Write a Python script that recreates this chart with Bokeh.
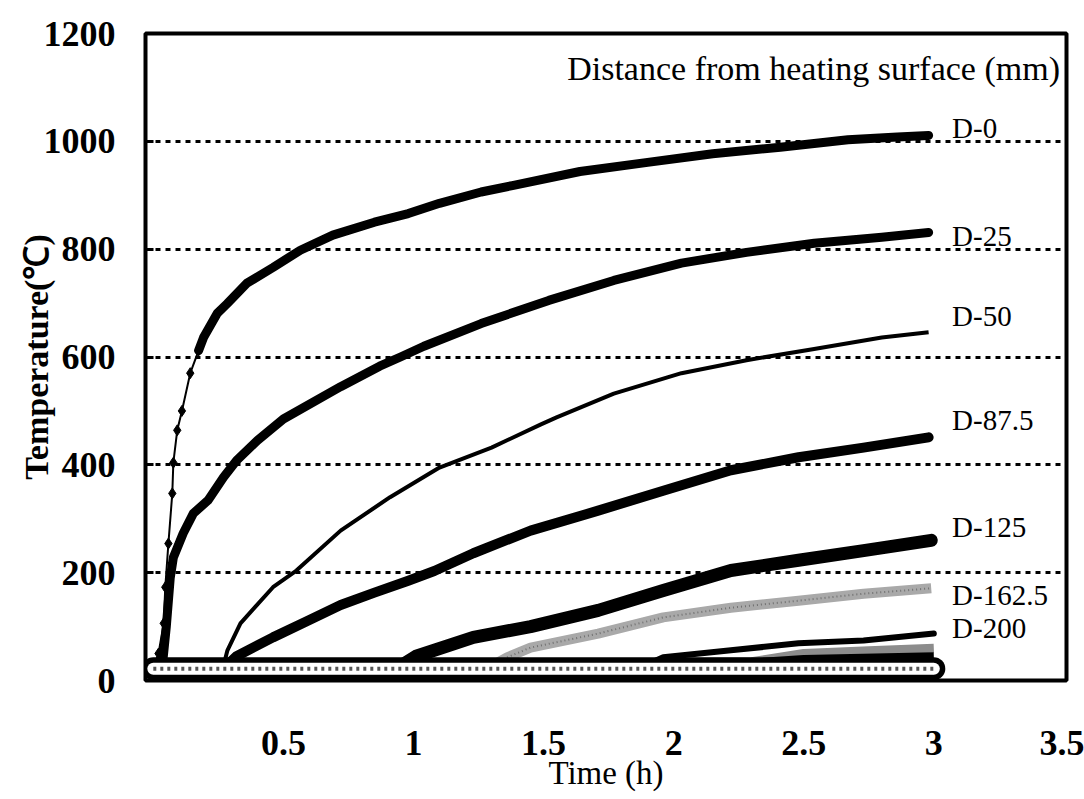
from bokeh.plotting import figure
from bokeh.models import FixedTicker, Label, Range1d, NumeralTickFormatter
from bokeh.core.properties import value
from bokeh.embed import file_html
from bokeh.resources import INLINE

# ---------------- data (time in h, temperature in degC) ----------------
t_d0 = [0.0, 0.02, 0.04, 0.046, 0.058, 0.073, 0.077, 0.092, 0.11, 0.142, 0.174,
        0.193, 0.246, 0.284, 0.36, 0.46, 0.565, 0.69, 0.85, 0.98, 1.1, 1.26,
        1.38, 1.64, 1.9, 2.15, 2.41, 2.67, 2.86, 2.98]
T_d0 = [25, 50, 106, 173, 254, 347, 404, 464, 500, 570, 612,
        636, 681, 699, 737, 766, 798, 826, 850, 866, 885, 906,
        918, 944, 961, 977, 989, 1003, 1008, 1011]

t_d25 = [0.0, 0.035, 0.05, 0.065, 0.077, 0.115, 0.154, 0.21, 0.27, 0.32, 0.4,
         0.5, 0.72, 0.87, 0.95, 1.04, 1.26, 1.52, 1.77, 2.03, 2.28, 2.54, 2.8, 2.98]
T_d25 = [25, 28, 100, 190, 228, 273, 310, 334, 377, 408, 445,
         485, 545, 583, 600, 620, 662, 705, 742, 774, 794, 811, 822, 831]

t_d50 = [0.0, 0.27, 0.285, 0.335, 0.46, 0.55, 0.72, 0.91, 1.1, 1.3, 1.49,
         1.55, 1.77, 2.03, 2.28, 2.54, 2.8, 2.98]
T_d50 = [25, 28, 56, 106, 173, 204, 278, 340, 395, 432, 475,
         488, 532, 570, 594, 615, 636, 646]

t_d875 = [0.0, 0.28, 0.32, 0.46, 0.59, 0.72, 0.85, 0.98, 1.08, 1.23, 1.45,
          1.71, 1.96, 2.22, 2.48, 2.73, 2.98]
T_d875 = [25, 27, 45, 80, 110, 140, 163, 185, 203, 236, 278,
          315, 352, 390, 414, 432, 451]

t_d125 = [0.0, 0.95, 1.01, 1.23, 1.45, 1.71, 1.96, 2.22, 2.48, 2.73, 2.99]
T_d125 = [25, 27, 45, 80, 100, 130, 167, 204, 223, 241, 260]

t_d1625 = [0.0, 1.3, 1.36, 1.45, 1.71, 1.96, 2.22, 2.48, 2.73, 2.99]
T_d1625 = [25, 27, 43, 61, 87, 117, 135, 148, 161, 171]

t_d200 = [0.0, 1.9, 1.96, 2.22, 2.48, 2.73, 3.0]
T_d200 = [25, 30, 43, 56, 69, 74, 87]

t_deep_a = [0.0, 2.3, 2.5, 2.75, 3.0]      # unlabelled grey series near the bottom
T_deep_a = [25, 35, 50, 55, 60]
t_deep_b = [0.0, 2.2, 2.5, 3.0]            # unlabelled black series near the bottom
T_deep_b = [25, 30, 40, 45]

t_room = [0.0, 3.0]                        # bottom (room temperature) series
T_room = [22, 22]

series_names = ["D-0", "D-25", "D-50", "D-87.5", "D-125", "D-162.5", "D-200"]
label_temps = [1025, 824, 676, 484, 284, 158, 98]   # where each name sits (degC)

x_ticks = [0.5, 1, 1.5, 2, 2.5, 3, 3.5]
y_ticks = [0, 200, 400, 600, 800, 1000, 1200]
grid_ticks = [200, 400, 600, 800, 1000]

SERIF = "Liberation Serif"

p = figure(width=1084, height=799, x_range=Range1d(-0.03, 3.51), y_range=Range1d(0, 1200),
           output_backend="svg", toolbar_location=None,
           min_border_left=145, min_border_right=18, min_border_top=33, min_border_bottom=119)
p.background_fill_color = "white"
p.border_fill_color = "white"
p.outline_line_color = "black"
p.outline_line_width = 4

# grid
p.xgrid.visible = False
p.ygrid.ticker = FixedTicker(ticks=grid_ticks)
p.ygrid.grid_line_color = "black"
p.ygrid.grid_line_width = 3
p.ygrid.grid_line_dash = "5 5"

# axes
p.xaxis.ticker = FixedTicker(ticks=x_ticks)
p.xaxis.formatter = NumeralTickFormatter(format="0.[0]")
p.yaxis.ticker = FixedTicker(ticks=y_ticks)
for ax in (p.xaxis[0], p.yaxis[0]):
    ax.axis_line_color = None
    ax.major_label_text_font = SERIF
    ax.major_label_text_font_style = "bold"
    ax.major_label_text_font_size = "36px"
    ax.major_label_text_color = "black"
    ax.minor_tick_line_color = None
    ax.axis_label_text_font = SERIF
    ax.axis_label_text_color = "black"
p.xaxis.major_tick_in = 0
p.xaxis.major_tick_out = 0
p.xaxis.major_label_standoff = 50
p.yaxis.major_tick_in = 8
p.yaxis.major_tick_out = 0
p.yaxis.major_tick_line_width = 3
p.yaxis.major_tick_line_color = "black"
p.yaxis.major_label_standoff = 30

p.xaxis.axis_label = "Time (h)"
p.xaxis.axis_label_text_font_size = "33px"
p.xaxis.axis_label_text_font_style = "normal"
p.xaxis.axis_label_standoff = -3
p.yaxis.axis_label = "Temperature(℃)"
p.yaxis.axis_label_text_font_size = "34px"
p.yaxis.axis_label_text_font_style = "bold"
p.yaxis.axis_label_standoff = -14

# ---------------- curves ----------------
# D-0 : thin marked start, then thick
n_thin = 12
p.line(t_d0[:n_thin], T_d0[:n_thin], line_color="black", line_width=2)
p.scatter(t_d0[1:n_thin], T_d0[1:n_thin], marker="diamond", size=11, color="black")
p.line(t_d0[n_thin - 2:], T_d0[n_thin - 2:], line_color="black", line_width=9, line_cap="round", line_join="round")

p.line(t_d25, T_d25, line_color="black", line_width=9, line_cap="round", line_join="round")
p.line(t_d50, T_d50, line_color="black", line_width=4, line_join="round")
p.line(t_d875, T_d875, line_color="black", line_width=10, line_cap="round", line_join="round")
p.line(t_d125, T_d125, line_color="black", line_width=13, line_cap="round", line_join="round")
p.line(t_d1625, T_d1625, line_color="#a9a9a9", line_width=10, line_join="round")
p.line(t_d1625, T_d1625, line_color="#707070", line_width=2, line_dash="1 3")
p.line(t_deep_a, T_deep_a, line_color="#8c8c8c", line_width=9, line_join="round")
p.line(t_deep_b, T_deep_b, line_color="black", line_width=8, line_join="round")
p.line(t_d200, T_d200, line_color="black", line_width=6, line_cap="round", line_join="round")

# room-temperature band (white line with black rim and cross marks)
p.line(t_room, T_room, line_color="black", line_width=23, line_cap="round")
p.line(t_room, T_room, line_color="white", line_width=12, line_cap="round")
p.line(t_room, T_room, line_color="#555555", line_width=4, line_dash="3 4")

# ---------------- labels ----------------
p.text(x=[3.07] * len(series_names), y=label_temps, text=series_names,
       text_font=value(SERIF), text_font_size="29px", text_color="black",
       text_baseline="middle", text_align="left")

p.add_layout(Label(x=3.485, y=1135, text="Distance from heating surface (mm)",
                   text_font=SERIF, text_font_size="34px", text_color="black",
                   text_align="right", text_baseline="middle"))

open("out.html", "w").write(file_html(p, INLINE))
